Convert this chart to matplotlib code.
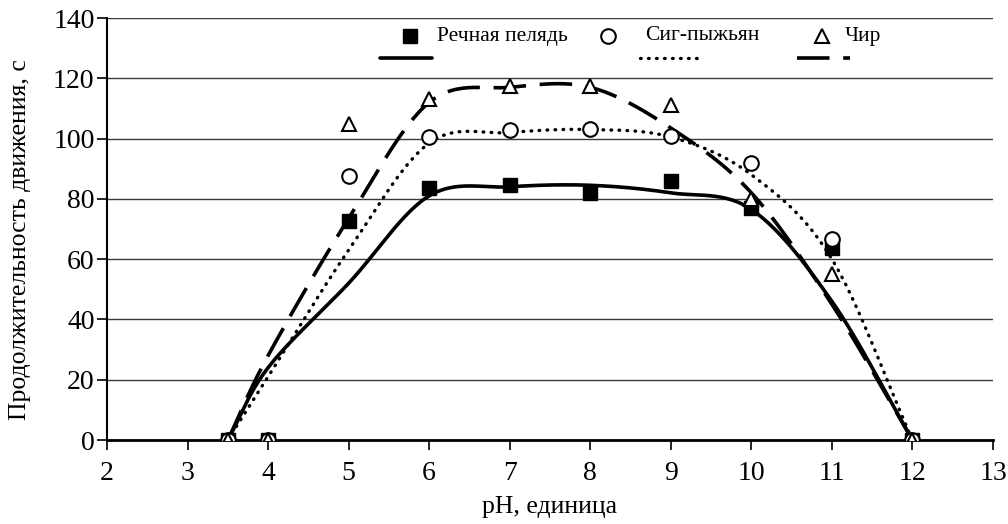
import matplotlib

matplotlib.use('Agg')

import numpy as np
import matplotlib.pyplot as plt
from matplotlib.lines import Line2D

plt.rcParams['font.family'] = ['Liberation Serif', 'DejaVu Serif']

# measured points
ph = [3.5, 4, 5, 6, 7, 8, 9, 10, 11, 12]
peled = [0, 0, 72.7, 83.6, 84.6, 82, 86, 77, 63.7, 0]
sig = [0, 0, 87.6, 100.5, 103, 103.2, 101, 92, 66.7, 0]
chir = [0, 0, 105, 113, 117.5, 117.5, 111, 80, 55, 0]

# trend curves
trend_ph = [3.5, 4, 5, 6, 7, 8, 9, 10, 11, 12]
peled_trend = [0, 24, 52, 81, 84, 84.5, 82, 76.5, 46, 0]
sig_trend = [0, 21, 63, 98.5, 102, 103, 100.5, 88, 60, 0]
chir_trend = [0, 28, 73.5, 112, 117, 117, 103.5, 82, 45, 0]

labels = ['Речная пелядь', 'Сиг-пыжьян', 'Чир']

DOT = (0, (0.2, 2.2))
DASH = (0, (9, 3.8))


def smooth(xs, ys, n=30):
    # catmull-rom style smoothing like excel's smoothed line
    xs = np.asarray(xs, float)
    ys = np.asarray(ys, float)
    px = np.concatenate([[2 * xs[0] - xs[1]], xs, [2 * xs[-1] - xs[-2]]])
    py = np.concatenate([[2 * ys[0] - ys[1]], ys, [2 * ys[-1] - ys[-2]]])
    ox, oy = [], []
    t = np.linspace(0, 1, n)
    for i in range(1, len(px) - 2):
        p0, p1, p2, p3 = [np.array([px[j], py[j]]) for j in range(i - 1, i + 3)]
        c1 = p1 + (p2 - p0) / 6.0
        c2 = p2 - (p3 - p1) / 6.0
        b = ((1 - t) ** 3)[:, None] * p1 + (3 * (1 - t) ** 2 * t)[:, None] * c1 \
            + (3 * (1 - t) * t ** 2)[:, None] * c2 + (t ** 3)[:, None] * p2
        ox.extend(b[:, 0])
        oy.extend(b[:, 1])
    return np.array(ox), np.array(oy)


W, H = 1008, 524
fig = plt.figure(figsize=(W / 100, H / 100), dpi=100)
ax = fig.add_axes([107 / W, 1 - 440 / H, (993 - 107) / W, (440 - 18) / H])

sx, sy = smooth(trend_ph, peled_trend)
ax.plot(sx, sy, '-', color='black', lw=2.6, solid_capstyle='round', zorder=3)
sx, sy = smooth(trend_ph, sig_trend)
ax.plot(sx, sy, color='black', lw=2.4, linestyle=DOT, dash_capstyle='round', zorder=3)
sx, sy = smooth(trend_ph, chir_trend)
ax.plot(sx, sy, color='black', lw=2.6, linestyle=DASH, zorder=3)

ax.plot(ph, peled, 's', color='black', ms=10, ls='none', zorder=4)
ax.plot(ph, sig, 'o', mfc='white', mec='black', mew=1.5, ms=10.5, ls='none', zorder=4)
ax.plot(ph, chir, '^', mfc='white', mec='black', mew=1.5, ms=10.5, ls='none', zorder=5)

ax.set_xlim(2, 13)
ax.set_ylim(0, 140)
ax.set_xticks(range(2, 14))
ax.set_yticks(range(0, 141, 20))
ax.yaxis.grid(True, color='#3a3a3a', lw=1.0)
ax.set_axisbelow(True)
for s in ['top', 'right']:
    ax.spines[s].set_visible(False)
ax.spines['left'].set_linewidth(1.5)
ax.spines['bottom'].set_linewidth(2)
ax.tick_params(direction='out', length=7, width=1.2, labelsize=20)
ax.tick_params(axis='x', pad=8)
ax.tick_params(axis='y', pad=2)
ax.set_xlabel('pH, единица', fontsize=18.5, labelpad=7)
ax.set_ylabel('Продолжительность движения, с', fontsize=18.5)
ax.yaxis.set_label_coords(-0.086, 0.474)

# legend laid out like the original: markers + names on top row, lines below
def fx(x):
    return x / W


def fy(y):
    return 1 - y / H


marker_x = [410, 608, 822]
text_x = [437, 645, 845]
line_x = [(380, 432), (640, 700), (797, 850)]
marker_style = [
    dict(marker='s', color='black', ms=10),
    dict(marker='o', mfc='white', mec='black', mew=1.5, ms=10.5),
    dict(marker='^', mfc='white', mec='black', mew=1.5, ms=10.5),
]
line_style = [
    dict(color='black', lw=2.6, solid_capstyle='round'),
    dict(color='black', lw=2.4, linestyle=DOT, dash_capstyle='round'),
    dict(color='black', lw=2.6, linestyle=DASH),
]
for i in range(3):
    fig.add_artist(Line2D([fx(marker_x[i])], [fy(36)], ls='none', **marker_style[i]))
    fig.text(fx(text_x[i]), fy(36), labels[i], fontsize=15.5, va='center', ha='left')
    fig.add_artist(Line2D([fx(line_x[i][0]), fx(line_x[i][1])], [fy(58), fy(58)], **line_style[i]))

fig.savefig('out.png', dpi=100)
